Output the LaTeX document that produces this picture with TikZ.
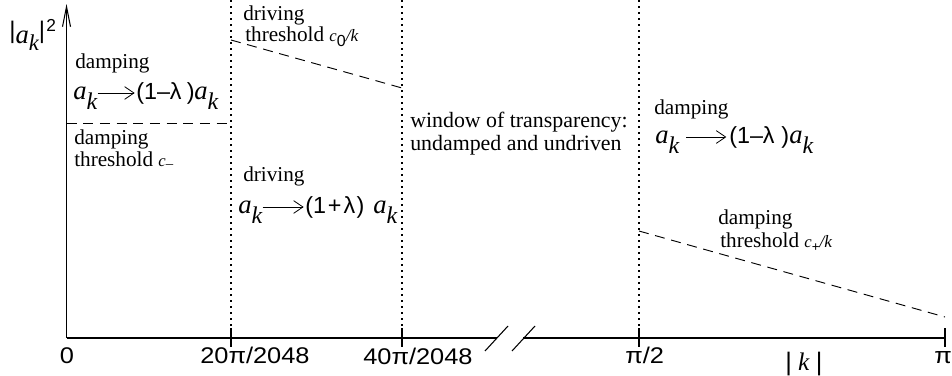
\documentclass[tikz,border=0pt]{standalone}
\usepackage{fontspec}
\setmainfont{Liberation Serif}
\newfontfamily\sansf{Liberation Sans}
\newfontfamily\sansw{Liberation Sans}[FakeStretch=1.12]
\usetikzlibrary{arrows.meta}
\newcommand\fsz[1]{\fontsize{#1}{#1}\selectfont}
\newcommand\bigak{{\fsz{20}\itshape a}\raisebox{-8pt}{\fsz{18}\itshape k}}
\newcommand\smallc{{\fsz{12.5}\itshape c}}
\begin{document}
\begin{tikzpicture}[x=0.75pt,y=-0.75pt,
  axisline/.style={line width=0.8pt,black},
  dotline/.style={line width=0.8pt,dash pattern=on 1.2pt off 3.3pt},
  dashline/.style={line width=0.7pt,dash pattern=on 7.5pt off 5pt},
  maparrow/.style={line width=0.6pt,-{Straight Barb[length=7pt,width=9.5pt,line width=0.6pt]}},
  txt/.style={inner sep=0pt,anchor=base west,font=\fsz{15.9}},
  formula/.style={inner sep=0pt,anchor=base west},
  factor/.style={inner sep=0pt,anchor=base west,font=\sansf\fsz{17.5}},
  ticklbl/.style={inner sep=0pt,anchor=base west,font=\sansw\fsz{17}}]
\useasboundingbox (0,0) rectangle (952,375);
% coordinates
\coordinate (O) at (66.5,338);
\coordinate (ytop) at (66.5,4);
\coordinate (b1) at (497,338);
\coordinate (b2) at (523,338);
\coordinate (xend) at (945,338);
% axes
\draw[axisline,-{Straight Barb[length=15pt,width=6pt]}] (O) -- (ytop);
\draw[axisline] (O) -- (b1);
\draw[axisline] (b2) -- (xend);
\draw[axisline] (485,351) -- (508,326);
\draw[axisline] (512,351) -- (535,326);
% ticks
\foreach \xx in {231,402,639,945}{
  \draw[axisline] (\xx,328) -- (\xx,347);
}
% dotted verticals
\foreach \xx in {231,402,639}{
  \draw[dotline] (\xx,0) -- (\xx,328);
}
% thresholds
\draw[dashline] (66.5,123) -- (231,123);
\draw[dashline] (231,40) -- (402,88);
\draw[dashline] (639,231) -- (945,317);
% y label
\node[formula] (ylab) at (9,43) {\sansf\fsz{18}\raisebox{0.17em}{|}{\rmfamily\fsz{20}\itshape a}\raisebox{-5.5pt}{\rmfamily\fsz{17}\itshape k}\raisebox{0.17em}{|}\hspace{1pt}\raisebox{8.5pt}{\fsz{13}2}};
% left region
\node[txt] (d1) at (75,68) {damping};
\node[formula] (f1a) at (73,99) {\bigak};
\node[factor] (f1b) at (136,99) {(1–λ\hspace{4pt})};
\node[formula] (f1c) at (194,99) {\bigak};
\draw[maparrow] ([yshift=4.5pt]f1a.base east) -- ([yshift=4.5pt,xshift=-1pt]f1b.base west);
\node[txt] (d2) at (74,144) {damping};
\node[txt] (d3) at (74,166) {threshold \smallc\raisebox{-2pt}{\fsz{11}–}};
% driving region
\node[txt] (dr1) at (243,20) {driving};
\node[txt] (dr2) at (245,41) {threshold \smallc\raisebox{-4pt}{\sansf\fsz{12}0}{\fsz{13}\itshape /k}};
\node[txt] (dr3) at (243,181) {driving};
\node[formula] (f2a) at (238,213) {\bigak};
\node[factor] (f2b) at (305,213) {(1\hspace{1.5pt}+\hspace{1.5pt}λ\hspace{1pt})};
\node[formula] (f2c) at (373,213) {\bigak};
\draw[maparrow] ([yshift=4.5pt]f2a.base east) -- ([yshift=4.5pt,xshift=-1pt]f2b.base west);
% window
\node[txt,font=\fsz{16.4}] (w1) at (410,127) {window of transparency:};
\node[txt,font=\fsz{16.4}] (w2) at (410,150) {undamped and undriven};
% right region
\node[txt] (r1) at (654,114) {damping};
\node[formula] (f3a) at (655,143) {\bigak};
\node[factor] (f3b) at (729,143) {(1–λ\hspace{5pt})};
\node[formula] (f3c) at (789,143) {\bigak};
\draw[maparrow] ([yshift=4.5pt,xshift=5pt]f3a.base east) -- ([yshift=4.5pt,xshift=-2pt]f3b.base west);
\node[txt] (r2) at (718,224) {damping};
\node[txt] (r3) at (720,247) {threshold \smallc\raisebox{-3pt}{\sansf\fsz{10}+}{\fsz{13}\itshape /k}};
% tick labels
\node[ticklbl,anchor=base] (l0) at (67,363) {0};
\node[ticklbl] (l1) at (200,363) {20π/2048};
\node[ticklbl] (l2) at (363,364) {40π/2048};
\node[ticklbl] (l3) at (625,363) {π/2};
\node[ticklbl] (l4) at (934,363) {π};
\node[formula] (lk) at (785,370) {\sansf\fsz{19}|{\rmfamily\itshape\ k\ }|};
\end{tikzpicture}
\end{document}
